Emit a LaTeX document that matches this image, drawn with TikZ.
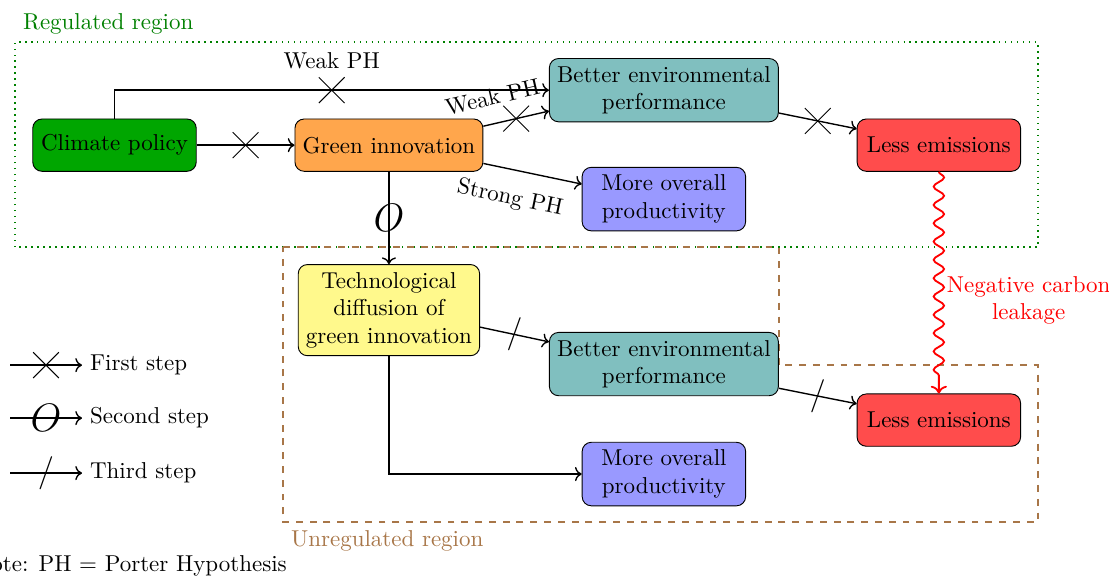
\documentclass[tikz,border=0pt]{standalone}
\usepackage{tikz}
\usetikzlibrary{shapes.misc}
\usetikzlibrary{arrows,arrows.meta}
\usetikzlibrary{calc, decorations.pathmorphing}
\definecolor{regulated}{RGB}{0,128,0}
\definecolor{unregulated}{RGB}{168,118,72}
\colorlet{policy}{green!65!black}
\colorlet{innovation}{orange!70}
\colorlet{environment}{teal!50}
\colorlet{productivity}{blue!40}
\colorlet{emissions}{red!70}
\colorlet{diffusion}{yellow!45}

\begin{document}
\begin{tikzpicture}[
    box/.style={draw, rounded corners, align=center, minimum height=0.8cm, minimum width=2.5cm},
    link/.style={semithick, ->},
    firstmark/.style={draw, cross out, thin, minimum size=0.38cm, inner sep=0pt},
    secondmark/.style={font=\LARGE, inner sep=0pt},
    thirdmark/.style={font=\Large, inner sep=0pt},
    ]

    \useasboundingbox (0,0) rectangle (16.96,8.81);

    % regions
    \draw[regulated, dotted, semithick] (0.229,5.031) rectangle (15.872,8.165);
    \node[above right, text=regulated] (reglabel) at (0.229,8.165) {Regulated region};
    \draw[unregulated, dashed, semithick] (4.327,5.031) -- (11.911,5.031) -- (11.911,3.226) -- (15.872,3.226) -- (15.872,0.826) -- (4.327,0.826) -- cycle;
    \node[below right, text=unregulated] (unreglabel) at (4.327,0.826) {Unregulated region};

    % regulated region
    \node[box, fill=policy] (policy) at (1.751,6.590) {Climate policy};
    \node[box, fill=innovation] (green) at (5.948,6.590) {Green innovation};
    \node[box, fill=environment] (betterreg) at (10.153,7.431) {Better environmental\\performance};
    \node[box, fill=productivity] (morereg) at (10.153,5.765) {More overall\\productivity};
    \node[box, fill=emissions] (lessreg) at (14.358,6.590) {Less emissions};

    % unregulated region
    \node[box, fill=diffusion] (diffusion) at (5.948,4.067) {Technological\\diffusion of\\green innovation};
    \node[box, fill=environment] (betterunreg) at (10.153,3.242) {Better environmental\\performance};
    \node[box, fill=emissions] (lessunreg) at (14.358,2.385) {Less emissions};
    \node[box, fill=productivity] (moreunreg) at (10.153,1.560) {More overall\\productivity};

    % first step
    \draw[link] (policy) -- node[firstmark] {} (green);
    \draw[link] (policy.north) |- node[firstmark, pos=0.75, label=above:Weak PH] {} (betterreg.west);
    \draw[link] ([yshift=2.9mm]green.east) -- node[firstmark] {} node[pos=0.23, above=1.5mm, sloped] {Weak PH} ([yshift=-3.2mm]betterreg.west);
    \draw[link] ([yshift=-2.8mm]green.east) -- node[pos=0.33, below=1.5mm, sloped] {Strong PH} ([yshift=2.3mm]morereg.west);
    \draw[link] ([yshift=-3.5mm]betterreg.east) -- node[firstmark] {} ([yshift=2.5mm]lessreg.west);

    % second step
    \draw[link] (green) -- node[secondmark] {$O$} (diffusion);

    % third step
    \draw[link] ([yshift=-2.6mm]diffusion.east) -- node[thirdmark] {$/$} ([yshift=3.4mm]betterunreg.west);
    \draw[link] ([yshift=-3.7mm]betterunreg.east) -- node[thirdmark] {$/$} ([yshift=2.5mm]lessunreg.west);
    \draw[link] (diffusion.south) |- (moreunreg.west);

    % carbon leakage
    \draw[red, thick, ->, decorate, decoration={snake, amplitude=0.8mm, segment length=2.8mm, post length=1.5mm}] (lessreg.south) -- (lessunreg.north);
    \node[right, text=red, align=center] (leakage) at ($(lessreg.south)!0.58!(lessunreg.north)$) {Negative carbon\\leakage};

    % legend
    \node[anchor=west] (firststep) at (1.254,3.226) {First step};
    \node[anchor=west] (secondstep) at (1.254,2.416) {Second step};
    \node[anchor=west] (thirdstep) at (1.254,1.575) {Third step};
    \coordinate (firststart) at (0.153,3.226);
    \coordinate (secondstart) at (0.153,2.416);
    \coordinate (thirdstart) at (0.153,1.575);
    \draw[link] (firststart) -- node[firstmark] {} (firststep.west);
    \draw[link] (secondstart) -- node[secondmark] {$O$} (secondstep.west);
    \draw[link] (thirdstart) -- node[thirdmark] {$/$} (thirdstep.west);

    \node[anchor=east] (note) at (4.51,0.15) {Note: PH $=$ Porter Hypothesis};

\end{tikzpicture}
\end{document}
